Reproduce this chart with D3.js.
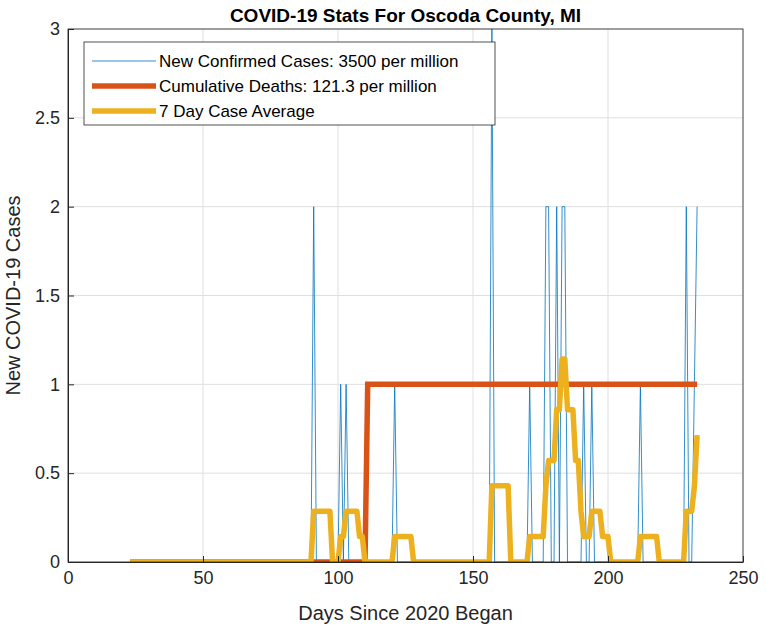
<!DOCTYPE html>
<html><head><meta charset="utf-8">
<script src="https://cdn.jsdelivr.net/npm/d3@7"></script>
<style>body{margin:0;background:#fff}text{font-family:"Liberation Sans",Arial,sans-serif}</style>
</head><body><svg id="c" width="766" height="630"></svg>
<script>
// Daily data, days 23..233
const FIRST_DAY = 23, LAST_DAY = 233;
// non-zero daily new cases: [day, count]
const caseSpikes = [[91,2],[101,1],[103,1],[121,1],[157,3],[171,1],[177,2],[178,2],[181,2],[183,2],[184,2],[191,1],[194,1],[212,1],[229,2],[232,1],[233,2]];
const deathDay = 111; // first death
const xTicks = [0,50,100,150,200,250];
const yTicks = [0,0.5,1,1.5,2,2.5,3];

const days = d3.range(FIRST_DAY, LAST_DAY + 1);
const spikeMap = new Map(caseSpikes);
const cases = days.map(d => ({d, v: spikeMap.get(d) || 0}));
const deaths = days.map(d => ({d, v: d >= deathDay ? 1 : 0}));
const avg = cases.map((c, i) => ({d: c.d, v: d3.sum(cases.slice(Math.max(0, i - 6), i + 1), e => e.v) / 7}));

const svg = d3.select("#c");
const m = {l: 68, r: 743, t: 29, b: 562};
const x = d3.scaleLinear().domain([0, 250]).range([m.l, m.r]);
const y = d3.scaleLinear().domain([0, 3]).range([m.b, m.t]);

const grid = svg.append("g").attr("stroke", "#dfdfdf").attr("stroke-width", 1);
xTicks.forEach(t => grid.append("line").attr("x1", x(t)).attr("x2", x(t)).attr("y1", m.t).attr("y2", m.b));
yTicks.forEach(t => grid.append("line").attr("x1", m.l).attr("x2", m.r).attr("y1", y(t)).attr("y2", y(t)));

svg.append("defs").append("clipPath").attr("id", "pc").append("rect")
  .attr("x", m.l).attr("y", m.t - 3).attr("width", m.r - m.l).attr("height", m.b - m.t + 3);
const plot = svg.append("g").attr("clip-path", "url(#pc)");
const line = d3.line().x(p => x(p.d)).y(p => y(p.v));
plot.append("path").datum(cases).attr("d", line).attr("fill", "none").attr("stroke", "#0072BD").attr("stroke-width", 0.8);
plot.append("path").datum(deaths).attr("d", line).attr("fill", "none").attr("stroke", "#D95319").attr("stroke-width", 5.5);
plot.append("path").datum(avg).attr("d", line).attr("fill", "none").attr("stroke", "#EDB120").attr("stroke-width", 5.5).attr("stroke-linejoin", "round");

svg.append("rect").attr("x", m.l).attr("y", m.t).attr("width", m.r - m.l).attr("height", m.b - m.t)
  .attr("fill", "none").attr("stroke", "#262626").attr("stroke-width", 0.8);
const xa = svg.append("g").attr("transform", `translate(0,${m.b})`)
  .call(d3.axisBottom(x).tickValues(xTicks).tickSizeInner(-6).tickSizeOuter(0).tickPadding(9));
const ya = svg.append("g").attr("transform", `translate(${m.l},0)`)
  .call(d3.axisLeft(y).tickValues(yTicks).tickSizeInner(-6).tickSizeOuter(0).tickPadding(8).tickFormat(d3.format("")));
[xa, ya].forEach(a => {
  a.select(".domain").attr("stroke", "#262626");
  a.selectAll(".tick line").attr("stroke", "#262626");
  a.selectAll("text").attr("font-size", 18).attr("fill", "#262626").style("font-family", "Liberation Sans, Arial");
});

svg.append("text").attr("x", (m.l + m.r) / 2).attr("y", 22).attr("text-anchor", "middle")
  .attr("font-size", 19).attr("font-weight", "bold").text("COVID-19 Stats For Oscoda County, MI");
svg.append("text").attr("x", (m.l + m.r) / 2).attr("y", 620).attr("text-anchor", "middle")
  .attr("font-size", 20).attr("fill", "#262626").text("Days Since 2020 Began");
svg.append("text").attr("transform", `translate(20,${(m.t + m.b) / 2}) rotate(-90)`).attr("text-anchor", "middle")
  .attr("font-size", 20).attr("fill", "#262626").text("New COVID-19 Cases");

const legendItems = [
  {label: "New Confirmed Cases: 3500 per million", color: "#0072BD", w: 0.8},
  {label: "Cumulative Deaths: 121.3 per million", color: "#D95319", w: 5.5},
  {label: "7 Day Case Average", color: "#EDB120", w: 5.5}
];
const lg = svg.append("g");
lg.append("rect").attr("x", 84).attr("y", 42).attr("width", 411).attr("height", 83)
  .attr("fill", "#fff").attr("stroke", "#262626").attr("stroke-width", 0.8);
legendItems.forEach((it, i) => {
  const yy = 61 + i * 25;
  lg.append("line").attr("x1", 92).attr("x2", 156).attr("y1", yy).attr("y2", yy).attr("stroke", it.color).attr("stroke-width", it.w);
  lg.append("text").attr("x", 159).attr("y", yy + 6).attr("font-size", 17).text(it.label);
});
</script></body></html>
